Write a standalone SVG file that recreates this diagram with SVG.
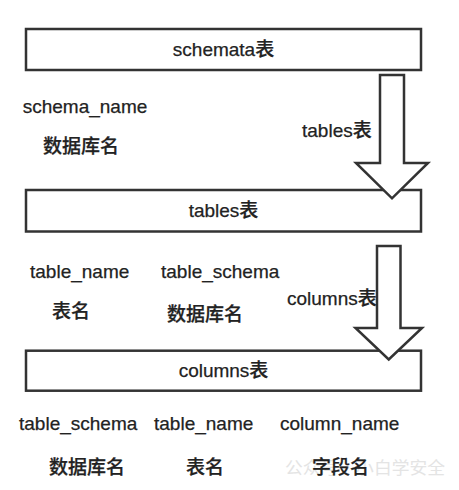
<svg xmlns="http://www.w3.org/2000/svg" width="459" height="490" viewBox="0 0 459 490">
<style>
  .box { fill: #ffffff; stroke: #333333; stroke-width: 2.5; }
  .arrow { fill: #ffffff; stroke: #333333; stroke-width: 2.5; stroke-linejoin: miter; }
  text { font-family: "Liberation Sans", "Noto Sans CJK SC", sans-serif; font-size: 19px; font-weight: 500; fill: #222222; stroke: #222222; stroke-width: 0.25; }
  .title { text-anchor: middle; }
  .wm { fill: #e4e4e4; stroke: none; font-weight: 400; font-size: 17px; font-family: "Noto Sans CJK SC", sans-serif; }
</style>
<rect x="0" y="0" width="459" height="490" fill="#ffffff"/>
<text class="wm" x="285" y="474" textLength="160" lengthAdjust="spacingAndGlyphs">公众号·小白学安全</text>
<g id="schemata">
  <rect class="box" x="26" y="29" width="395" height="41"/>
  <text class="title" x="223.5" y="56">schemata表</text>
</g>
<g id="schemata-fields">
  <text x="22.7" y="113">schema_name</text>
  <text x="43" y="153">数据库名</text>
</g>
<g id="tables">
  <rect class="box" x="26" y="190" width="395" height="41.5"/>
  <text class="title" x="223.5" y="217">tables表</text>
</g>
<g id="tables-fields">
  <text x="30" y="278">table_name</text>
  <text x="161" y="278">table_schema</text>
  <text x="52" y="318">表名</text>
  <text x="167" y="321">数据库名</text>
</g>
<g id="columns">
  <rect class="box" x="26" y="350.7" width="395" height="40"/>
  <text class="title" x="223.5" y="377">columns表</text>
</g>
<g id="columns-fields">
  <text x="19" y="430">table_schema</text>
  <text x="154" y="430">table_name</text>
  <text x="280" y="430">column_name</text>
  <text x="49" y="474">数据库名</text>
  <text x="186" y="474">表名</text>
  <text x="312" y="474">字段名</text>
</g>
<g id="connectors">
  <polygon class="arrow" points="380,75 404,75 404,163 428,163 392,198.3 356,163 380,163"/>
  <text x="302" y="137">tables表</text>
  <polygon class="arrow" points="377,246 400.5,246 400.5,328 422,328 388.75,359.5 355.5,328 377,328"/>
  <text x="287" y="305">columns表</text>
</g>
</svg>
